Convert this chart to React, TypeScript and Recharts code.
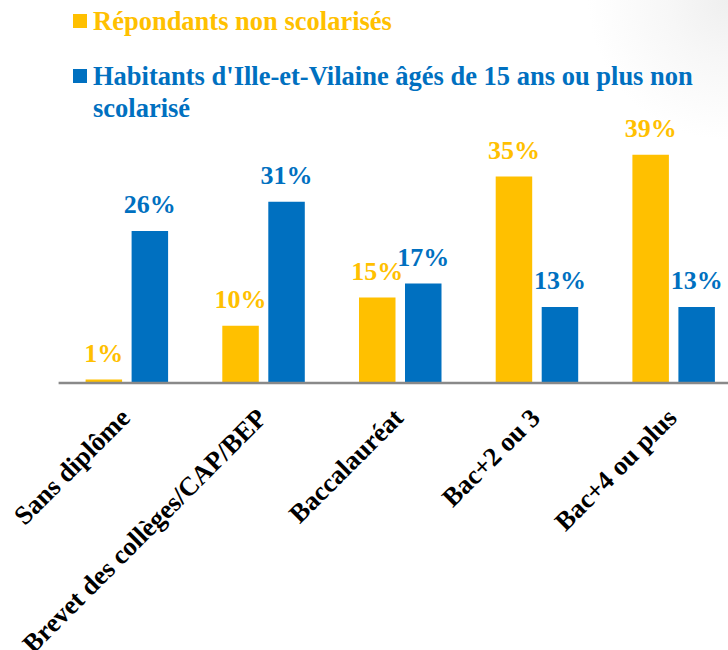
import React from "react";
import { BarChart, Bar, XAxis, YAxis, LabelList } from "recharts";

const categories = [
  "Sans diplôme",
  "Brevet des collèges/CAP/BEP",
  "Baccalauréat",
  "Bac+2 ou 3",
  "Bac+4 ou plus",
];
const repondants = [0.6, 9.8, 14.6, 35.3, 39];
const habitants = [26, 31, 17, 13, 13];

const seriesNames = [
  "Répondants non scolarisés",
  "Habitants d'Ille-et-Vilaine âgés de 15 ans ou plus non scolarisé",
];
const legendLines = [
  ["Répondants non scolarisés"],
  ["Habitants d'Ille-et-Vilaine âgés de 15 ans ou plus non", "scolarisé"],
];
const colors = ["#FFC000", "#0070C0"];

const data = categories.map((c, i) => ({
  name: c,
  r: repondants[i],
  h: habitants[i],
}));

const FONT = "'Liberation Serif', 'Times New Roman', serif";

const fmt = (v: any) => `${Math.round(Number(v))}%`;

const Tick = (props: any) => {
  const { x, y, payload } = props;
  const ax = x + 4.5;
  const ay = y + 36.5;
  return (
    <text
      x={ax}
      y={ay}
      transform={`rotate(-45, ${ax}, ${ay})`}
      textAnchor="end"
      fontFamily={FONT}
      fontWeight="bold"
      fontSize={26.5}
      fill="#000"
    >
      {payload.value}
    </text>
  );
};

export default function App() {
  return (
    <div
      style={{
        position: "absolute",
        left: 0,
        top: 0,
        width: 728,
        height: 650,
        overflow: "hidden",
        background:
          "radial-gradient(circle at 100% 0%, #efefef 0px, #f7f7f7 60px, #ffffff 140px)",
      }}
    >
      <svg
        width={728}
        height={140}
        style={{ position: "absolute", left: 0, top: 0 }}
      >
        {legendLines.map((lines, i) => {
          const base = i === 0 ? 30 : 85;
          return (
            <g key={seriesNames[i]}>
              <rect x={73} y={base - 16} width={14} height={14} fill={colors[i]} />
              {lines.map((ln, j) => (
                <text
                  key={j}
                  x={93}
                  y={base + j * 32}
                  fontFamily={FONT}
                  fontWeight="bold"
                  fontSize={26.5}
                  fill={colors[i]}
                >
                  {ln}
                </text>
              ))}
            </g>
          );
        })}
      </svg>
      <div style={{ position: "absolute", left: 0, top: 0 }}>
        <BarChart
          width={750}
          height={650}
          data={data}
          margin={{ top: 90.5, right: 7.9, left: 58.6, bottom: 67 }}
          barSize={36.5}
          barGap={9.5}
        >
          <XAxis
            dataKey="name"
            height={200}
            tickLine={false}
            tickSize={0}
            tickMargin={0}
            axisLine={{ stroke: "#898989", strokeWidth: 2.3 }}
            tick={<Tick />}
            interval={0}
          />
          <YAxis hide domain={[0, 50]} />
          <Bar dataKey="r" name={seriesNames[0]} fill={colors[0]} isAnimationActive={false}>
            <LabelList
              dataKey="r"
              position="top"
              offset={17.5}
              formatter={fmt}
              fill={colors[0]}
              fontFamily={FONT}
              fontWeight="bold"
              fontSize={26}
            />
          </Bar>
          <Bar dataKey="h" name={seriesNames[1]} fill={colors[1]} isAnimationActive={false}>
            <LabelList
              dataKey="h"
              position="top"
              offset={17.5}
              formatter={fmt}
              fill={colors[1]}
              fontFamily={FONT}
              fontWeight="bold"
              fontSize={26}
            />
          </Bar>
        </BarChart>
      </div>
    </div>
  );
}
